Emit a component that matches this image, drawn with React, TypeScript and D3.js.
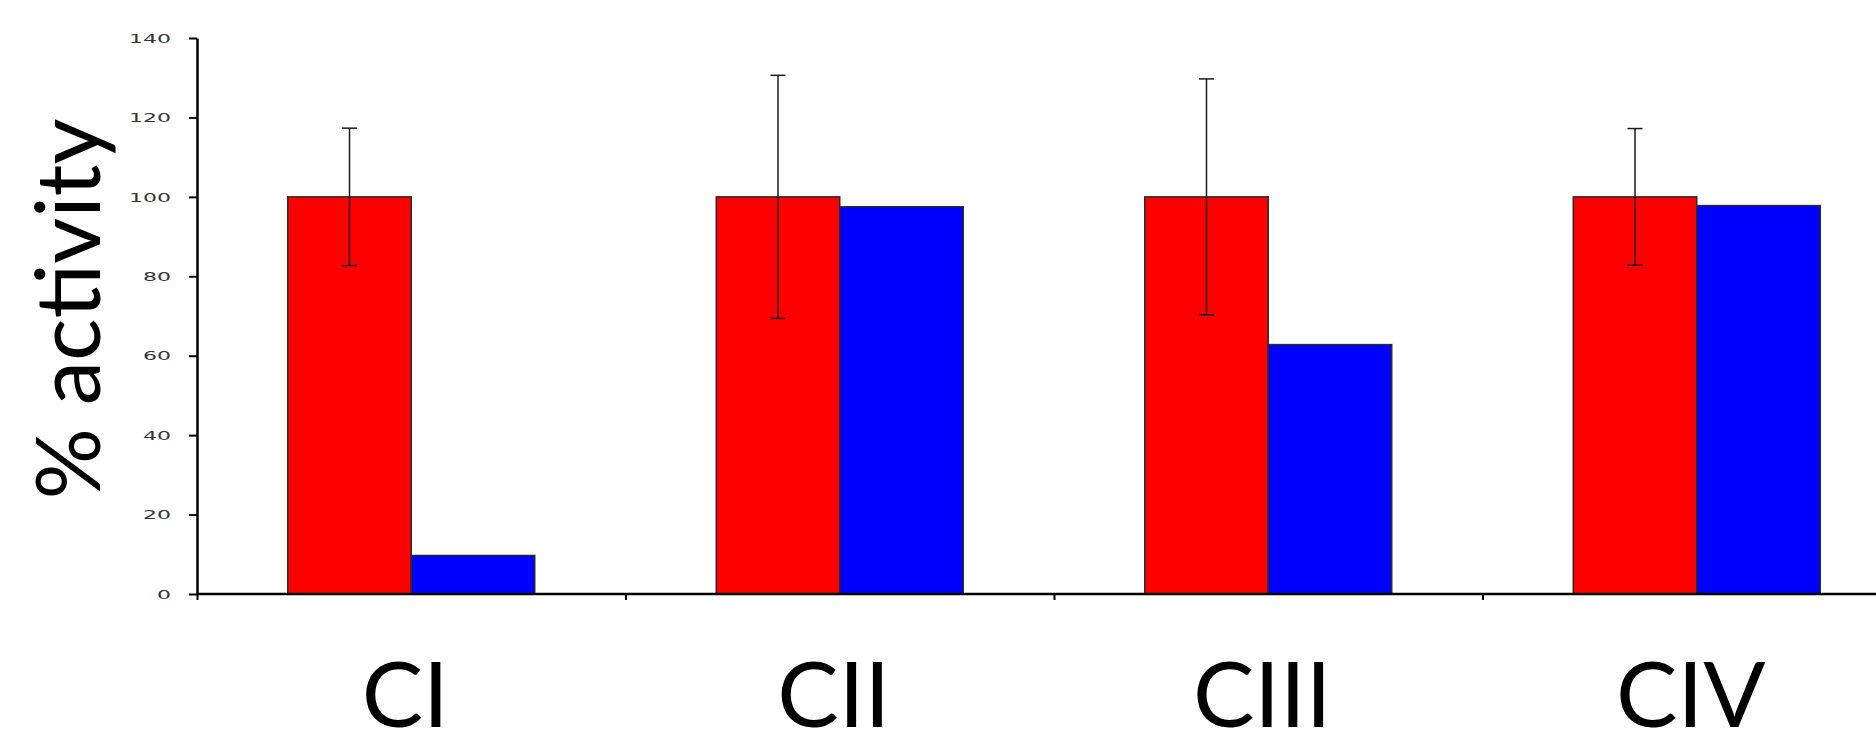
import React, { useRef, useEffect } from "react";
import { select, scaleBand, scaleLinear, axisLeft, axisBottom } from "d3";

const categories = ["CI", "CII", "CIII", "CIV"];
const seriesNames = ["control", "treated"];
const controlValues = [100, 100, 100, 100];
const controlErrors = [17.3, 30.6, 29.7, 17.2];
const treatedValues = [9.7, 97.5, 62.8, 97.8];
const yTicks = [0, 20, 40, 60, 80, 100, 120, 140];

const colors = { control: "#ff0000", treated: "#0000ff" };

function App() {
    const svgRef = useRef(null);
    const width = 1876;
    const height = 733;
    const left = 197;
    const bandStep = 428.5;

    useEffect(() => {
        const svg = select(svgRef.current);
        svg.selectAll("*").remove();

        const x0 = scaleBand()
            .domain(categories)
            .range([left, left + bandStep * categories.length])
            .padding(0);

        const x1 = scaleBand()
            .domain(seriesNames)
            .range([0, x0.bandwidth()])
            .paddingInner(0)
            .paddingOuter(0.735);

        const y = scaleLinear().domain([0, 140]).range([594, 38]);

        const rows = categories.map((c, i) => ({
            cat: c,
            vals: [
                { key: "control", v: controlValues[i], err: controlErrors[i] },
                { key: "treated", v: treatedValues[i], err: null },
            ],
        }));

        // bars
        const groups = svg
            .selectAll(".grp")
            .data(rows)
            .join("g")
            .attr("class", "grp")
            .attr("transform", d => `translate(${x0(d.cat)},0)`);

        groups
            .selectAll("rect")
            .data(d => d.vals)
            .join("rect")
            .attr("x", d => x1(d.key))
            .attr("y", d => y(d.v))
            .attr("width", x1.bandwidth())
            .attr("height", d => y(0) - y(d.v))
            .attr("fill", d => colors[d.key])
            .attr("stroke", "#2a2a2a")
            .attr("stroke-width", 1.5);

        // error bars on control only
        const errs = groups
            .selectAll(".err")
            .data(d => d.vals.filter(v => v.err != null))
            .join("g")
            .attr("class", "err")
            .attr("stroke", "#1a1a1a")
            .attr("stroke-width", 1.5);

        const cx = d => x1(d.key) + x1.bandwidth() / 2;
        errs.append("line")
            .attr("x1", cx).attr("x2", cx)
            .attr("y1", d => y(d.v + d.err))
            .attr("y2", d => y(d.v - d.err));
        errs.append("line")
            .attr("x1", d => cx(d) - 7.5).attr("x2", d => cx(d) + 7.5)
            .attr("y1", d => y(d.v + d.err))
            .attr("y2", d => y(d.v + d.err));
        errs.append("line")
            .attr("x1", d => cx(d) - 7.5).attr("x2", d => cx(d) + 7.5)
            .attr("y1", d => y(d.v - d.err))
            .attr("y2", d => y(d.v - d.err));

        // y axis
        const yAxis = axisLeft(y).tickValues(yTicks).tickSize(8).tickSizeOuter(0).tickPadding(18);
        const yg = svg.append("g")
            .attr("transform", `translate(${left},0)`)
            .call(yAxis);
        yg.select(".domain").attr("stroke", "#000").attr("stroke-width", 2.5);
        yg.selectAll(".tick line").attr("stroke", "#000").attr("stroke-width", 2);
        yg.selectAll(".tick text")
            .attr("font-family", "DejaVu Sans")
            .attr("font-size", 13)
            .attr("fill", "#333")
            .attr("textLength", d => String(d).length * 14)
            .attr("lengthAdjust", "spacingAndGlyphs");

        // x axis: ticks on band boundaries
        const boundaries = categories.map(c => x0(c));
        const xLin = scaleLinear().domain([0, width]).range([0, width]);
        const xAxis = axisBottom(xLin).tickValues(boundaries).tickSize(6).tickSizeOuter(0).tickFormat(() => "");
        const xg = svg.append("g")
            .attr("transform", `translate(0,${y(0)})`)
            .call(xAxis);
        xg.select(".domain")
            .attr("d", `M${left},0H${left + bandStep * categories.length}`)
            .attr("stroke", "#000").attr("stroke-width", 2.5);
        xg.selectAll(".tick line").attr("stroke", "#000").attr("stroke-width", 2);

        // category labels
        svg.selectAll(".cat")
            .data(categories)
            .join("text")
            .attr("class", "cat")
            .attr("x", d => x0(d) + x0.bandwidth() / 2 - 6)
            .attr("y", 727)
            .attr("text-anchor", "middle")
            .attr("font-family", "Lato")
            .attr("font-size", 92)
            .attr("fill", "#000")
            .text(d => d);

        // y label
        svg.append("text")
            .attr("transform", "translate(100,309) rotate(-90)")
            .attr("text-anchor", "middle")
            .attr("font-family", "Lato")
            .attr("font-size", 89)
            .attr("fill", "#000")
            .text("% activity");
    }, []);

    return (
        <div style={{ position: "absolute", left: 0, top: 0 }}>
            <svg ref={svgRef} width={width} height={height} style={{ display: "block", background: "#fff" }} />
        </div>
    );
}

export default App;
